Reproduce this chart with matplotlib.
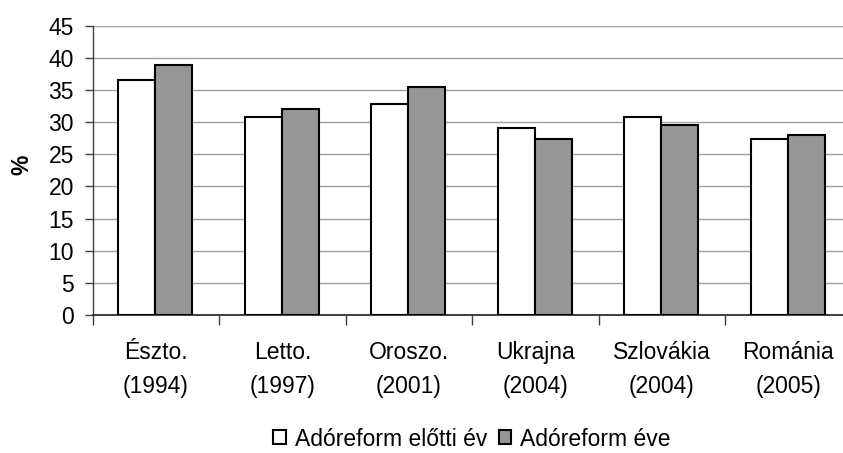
import matplotlib
matplotlib.use("Agg")
import matplotlib.pyplot as plt
import numpy as np

categories = ["Észto.\n(1994)", "Letto.\n(1997)", "Oroszo.\n(2001)",
              "Ukrajna\n(2004)", "Szlovákia\n(2004)", "Románia\n(2005)"]
before = [36.6, 30.8, 32.8, 29.1, 30.8, 27.4]
after = [38.9, 32.0, 35.4, 27.4, 29.6, 28.0]
series_names = ["Adóreform előtti év", "Adóreform éve"]
yticks = [0, 5, 10, 15, 20, 25, 30, 35, 40, 45]

plt.rcParams['font.family'] = ['Liberation Sans', 'DejaVu Sans']
plt.rcParams['font.size'] = 16

fig = plt.figure(figsize=(8.43, 4.53), dpi=100)
ax = fig.add_axes([0.110, 0.3046, 1.0103 - 0.110, 0.9437 - 0.3046])

x = np.arange(len(categories))
w = 0.2925
b1 = ax.bar(x - w / 2 - 0.005, before, w, color="white", edgecolor="black",
            linewidth=1.5, label=series_names[0], zorder=3)
b2 = ax.bar(x + w / 2 - 0.005, after, w, color="#969696", edgecolor="black",
            linewidth=1.5, label=series_names[1], zorder=3)

ax.set_xlim(-0.5, len(categories) - 0.5)
ax.set_ylim(0, 45)
ax.set_yticks(yticks)
ax.yaxis.grid(True, color="#a0a0a0", linewidth=1.0, zorder=0)
ax.set_axisbelow(True)

ax.set_xticks(np.arange(len(categories) + 1) - 0.5)
ax.set_xticklabels([])
ax.set_xticks(x, minor=True)
ax.set_xticklabels(categories, minor=True, linespacing=1.6)
ax.tick_params(axis="x", which="major", length=7.5, width=1, color="#404040", direction="out")
ax.tick_params(axis="x", which="minor", length=0, pad=19, labelsize=16.5)
ax.tick_params(axis="y", length=5.5, width=1, color="#404040", direction="out", pad=8, labelsize=16.5)

for s in ["top", "right"]:
    ax.spines[s].set_visible(False)
ax.spines["left"].set_color("#404040")
ax.spines["bottom"].set_color("#202020")
ax.spines["left"].set_linewidth(1)
ax.spines["bottom"].set_linewidth(1.2)

fig.text(22 / 843, 1 - 165 / 453, "%", rotation=90, fontweight="bold",
         fontsize=16.5, ha="center", va="center")

fig.legend(handles=[b1, b2], labels=series_names, loc="center",
           bbox_to_anchor=(472 / 843, 1 - 439 / 453), ncol=2, frameon=False,
           handlelength=0.55, handleheight=0.55, handletextpad=0.4,
           columnspacing=0.5, fontsize=16.5, borderaxespad=0, borderpad=0)

fig.savefig("out.png", dpi=100)
